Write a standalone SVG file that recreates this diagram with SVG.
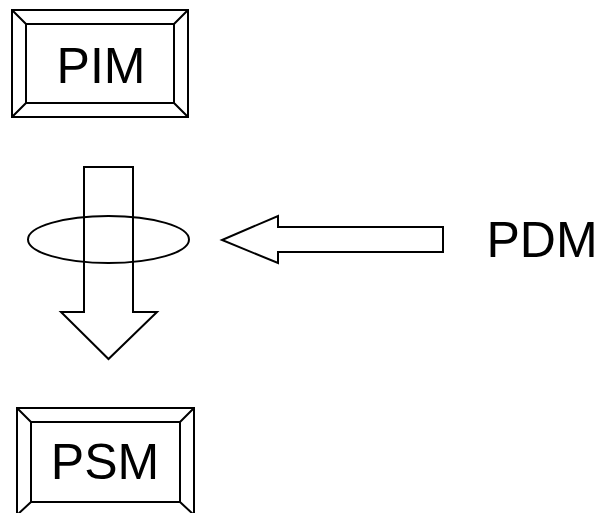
<svg xmlns="http://www.w3.org/2000/svg" width="605" height="513" viewBox="0 0 605 513">
<style>
.s{fill:none;stroke:#000;stroke-width:2;stroke-linejoin:miter}
.t{font-family:"Liberation Sans",Arial,sans-serif;font-size:50px;fill:#000;text-anchor:middle}
</style>
<rect width="605" height="513" fill="#fff"/>
<g id="PIM">
<rect class="s" x="12" y="10" width="176" height="107"/>
<rect class="s" x="26" y="24" width="148" height="79"/>
<path class="s" d="M12,10L26,24M188,10L174,24M12,117L26,103M188,117L174,103"/>
<text class="t" x="101" y="83">PIM</text>
</g>
<g id="PSM">
<rect class="s" x="17" y="408" width="177" height="107"/>
<rect class="s" x="31" y="422" width="149" height="80"/>
<path class="s" d="M17,408L31,422M194,408L180,422M17,515L31,502M194,515L180,502"/>
<text class="t" x="105" y="479">PSM</text>
</g>
<g id="PDM">
<text class="t" x="542" y="257">PDM</text>
</g>
<g id="connectors">
<polygon class="s" points="84,167 133,167 133,312 157,312 108.5,359 61,312 84,312"/>
<ellipse class="s" cx="108.5" cy="239.5" rx="80.5" ry="23.5"/>
<polygon class="s" points="443,227 278,227 278,216 222,240 278,263 278,252 443,252"/>
</g>
</svg>
